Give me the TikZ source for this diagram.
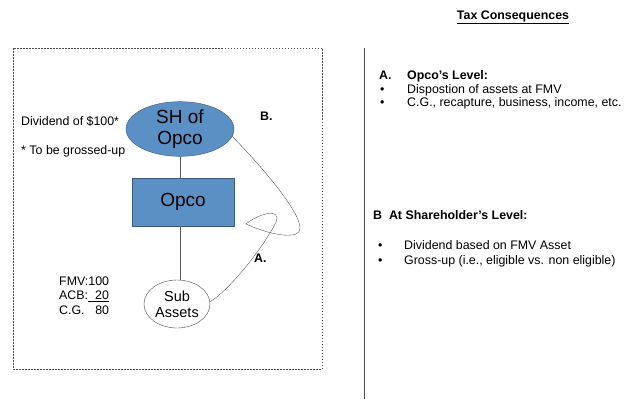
\documentclass[tikz,border=0pt]{standalone}
\usepackage{fontspec}
\setmainfont{Liberation Sans}
\usetikzlibrary{shapes.geometric}
\definecolor{opcoblue}{RGB}{91,144,197}
\definecolor{opcoedge}{RGB}{58,88,128}
\begin{document}
\begin{tikzpicture}[x=1pt,y=-1pt,
 txt/.style={anchor=base west,inner sep=0pt,font=\fontsize{12.4}{14.5}\selectfont},
 bold/.style={txt,font=\fontsize{12.4}{14.5}\selectfont\bfseries},
 big/.style={font=\fontsize{19}{21}\selectfont,align=center,inner sep=0pt}]
 \useasboundingbox (0,0) rectangle (626,399);
 % left frame and divider
 \draw[gray!60!black,dash pattern=on 1.5pt off 1.5pt](13,48) rectangle (322,369);
 \draw[gray!60!black](364,48)--(364,399);
 % entities
 \node[ellipse,draw=opcoedge,fill=opcoblue,minimum width=108,minimum height=42,big](sh) at (180,129){SH of\\Opco};
 \node[rectangle,draw=opcoedge,fill=opcoblue,minimum width=102,minimum height=48,big](opco) at (183,202){Opco};
 \node[ellipse,draw=black!70,fill=white,minimum width=66,minimum height=48,inner sep=0pt,align=center,font=\fontsize{14.5}{16}\selectfont](sub) at (177,304){Sub\\Assets};
 \draw[gray!70!black](sh.south)--(sh.south |- opco.north);
 \draw[gray!70!black](opco.south -| sh.south)--(sub.north -| sh.south);
 % the loop from SH of Opco down to Sub Assets
 \draw[gray!70!black](sh.-8) .. controls (265,170) and (300,212) .. (300,228)
  .. controls (301,240) and (272,236) .. (246,224)
  .. controls (258,214) and (282,207) .. (276,222)
  .. controls (265,245) and (230,290) .. (sub.4);
 \node[bold](lb) at (260,120){B.};
 \node[bold](la) at (254,262){A.};
 % notes on the left
 \node[txt](div) at (21,125){Dividend of \$100*};
 \node[txt](gross) at (21,154){* To be grossed-up};
 \node[txt,align=left](fmv) at (59,300){%
  \begin{tabular}{@{}l@{}r@{}}FMV:&100\\ACB:&\underline{\ \ 20}\\C.G.&80\end{tabular}};
 % tax consequences
 \node[bold,anchor=base](title) at (513,19){\underline{Tax Consequences}};
 \node[bold](ha) at (379,79){A.};
 \node[bold](hat) at (407,79){Opco's Level:};
 \node[txt](ba1) at (380,93){•};
 \node[txt](ta1) at (407,93){Dispostion of assets at FMV};
 \node[txt](ba2) at (380,106){•};
 \node[txt](ta2) at (407,106){C.G., recapture, business, income, etc.};
 \node[bold](hb) at (373,219){B\ \ At Shareholder's Level:};
 \node[txt](bb1) at (378,249){•};
 \node[txt](tb1) at (404,249){Dividend based on FMV Asset};
 \node[txt](bb2) at (378,264){•};
 \node[txt](tb2) at (404,264){Gross-up (i.e., eligible vs. non eligible)};
\end{tikzpicture}
\end{document}
